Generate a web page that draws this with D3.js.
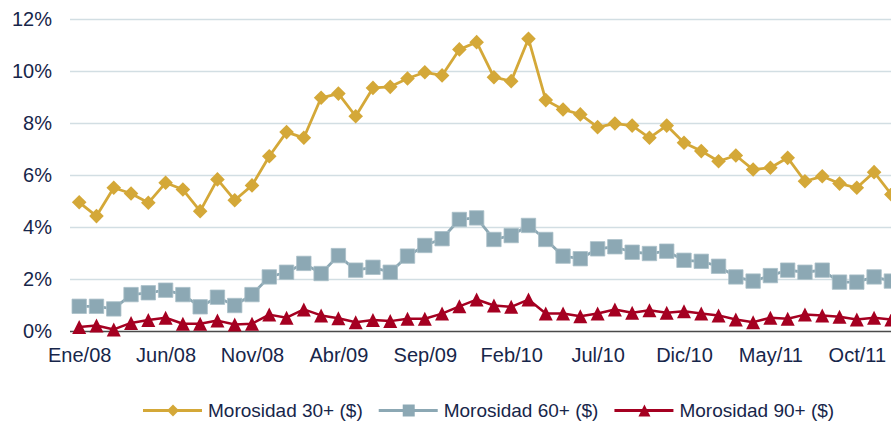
<!DOCTYPE html>
<html>
<head>
<meta charset="utf-8">
<script src="https://cdn.jsdelivr.net/npm/d3@7"></script>
<style>
  html, body { margin: 0; padding: 0; background: #ffffff; overflow: hidden; }
  svg { display: block; font-family: "Liberation Sans", Arial, sans-serif; }
</style>
</head>
<body>
<svg id="chart" width="891" height="426"></svg>
<script>
// ---- Data ----
const months = [
  "Ene/08","Feb/08","Mar/08","Abr/08","May/08","Jun/08","Jul/08","Ago/08","Sep/08","Oct/08","Nov/08","Dic/08",
  "Ene/09","Feb/09","Mar/09","Abr/09","May/09","Jun/09","Jul/09","Ago/09","Sep/09","Oct/09","Nov/09","Dic/09",
  "Ene/10","Feb/10","Mar/10","Abr/10","May/10","Jun/10","Jul/10","Ago/10","Sep/10","Oct/10","Nov/10","Dic/10",
  "Ene/11","Feb/11","Mar/11","Abr/11","May/11","Jun/11","Jul/11","Ago/11","Sep/11","Oct/11","Nov/11","Dic/11"
];
const tickLabels = ["Ene/08","Jun/08","Nov/08","Abr/09","Sep/09","Feb/10","Jul/10","Dic/10","May/11","Oct/11"];
const yTicks = [0, 2, 4, 6, 8, 10, 12];

const morosidad30 = [
  4.95, 4.42, 5.51, 5.29, 4.93, 5.70, 5.44, 4.61, 5.83, 5.03, 5.60, 6.72,
  7.65, 7.43, 8.97, 9.13, 8.26, 9.35, 9.39, 9.71, 9.95, 9.83, 10.83, 11.11,
  9.76, 9.61, 11.24, 8.88, 8.52, 8.33, 7.84, 7.98, 7.90, 7.43, 7.90, 7.24,
  6.92, 6.53, 6.75, 6.21, 6.28, 6.66, 5.76, 5.95, 5.67, 5.51, 6.11, 5.25
];
const morosidad60 = [
  0.95, 0.95, 0.85, 1.40, 1.47, 1.57, 1.40, 0.93, 1.30, 0.98, 1.40, 2.08,
  2.26, 2.60, 2.21, 2.90, 2.34, 2.45, 2.26, 2.88, 3.29, 3.55, 4.29, 4.35,
  3.52, 3.67, 4.06, 3.52, 2.88, 2.78, 3.16, 3.24, 3.03, 2.98, 3.07, 2.72,
  2.68, 2.49, 2.08, 1.92, 2.13, 2.34, 2.26, 2.34, 1.88, 1.88, 2.08, 1.92
];
const morosidad90 = [
  0.15, 0.21, 0.06, 0.31, 0.42, 0.51, 0.28, 0.28, 0.40, 0.25, 0.28, 0.63,
  0.51, 0.83, 0.60, 0.49, 0.34, 0.42, 0.38, 0.47, 0.47, 0.67, 0.95, 1.21,
  0.98, 0.93, 1.21, 0.67, 0.67, 0.57, 0.67, 0.83, 0.70, 0.80, 0.70, 0.76,
  0.67, 0.60, 0.44, 0.34, 0.51, 0.47, 0.63, 0.60, 0.55, 0.44, 0.51, 0.44
];
const seriesNames = ["Morosidad 30+ ($)", "Morosidad 60+ ($)", "Morosidad 90+ ($)"];
const seriesColors = ["#D4A838", "#8CA8B4", "#A50021"];
const seriesMarkers = ["diamond", "square", "triangle"];

// ---- Layout ----
const W = 891, H = 426;
const plotLeft = 70, plotRight = 891, plotTop = 19, plotBottom = 331;
const textColor = "#17264A";

const svg = d3.select("#chart");

const x = d3.scalePoint().domain(months).range([79.2, 79.2 + 47 * 17.28]);
const y = d3.scaleLinear().domain([0, 12]).range([plotBottom, plotTop]);

// Gridlines + y labels
const yAxis = svg.append("g")
  .attr("transform", `translate(${plotLeft},0)`)
  .call(d3.axisLeft(y).tickValues(yTicks).tickFormat(d => d + "%")
    .tickSize(-(plotRight - plotLeft)).tickPadding(18));
yAxis.select(".domain").remove();
yAxis.selectAll(".tick line")
  .attr("stroke", d => d === 0 ? "none" : "#D2DEE3")
  .attr("stroke-width", 1.6);
yAxis.selectAll(".tick text")
  .attr("fill", textColor).style("font-size", "20px");

// X axis
const xAxis = svg.append("g")
  .attr("transform", `translate(0,${plotBottom})`)
  .call(d3.axisBottom(x).tickValues(tickLabels).tickSize(0).tickPadding(17));
xAxis.select(".domain").remove();
xAxis.selectAll(".tick text")
  .attr("fill", textColor).style("font-size", "20px");

// Baseline
svg.append("line")
  .attr("x1", plotLeft).attr("x2", W)
  .attr("y1", plotBottom + 0.5).attr("y2", plotBottom + 0.5)
  .attr("stroke", "#4A4A4A").attr("stroke-width", 1.5);

// Marker symbol path generator
function markerPath(type, s) {
  if (type === "diamond") {
    return `M0,${-s}L${s},0L0,${s}L${-s},0Z`;
  } else if (type === "square") {
    return `M${-s},${-s}H${s}V${s}H${-s}Z`;
  } else {
    return `M0,${-s}L${s},${s}L${-s},${s}Z`;
  }
}
const markerSizes = { diamond: 7.3, square: 7.2, triangle: 7 };

const allSeries = [morosidad30, morosidad60, morosidad90];
const line = d3.line().x((d, i) => x(months[i])).y(d => y(d));

allSeries.forEach((vals, si) => {
  const g = svg.append("g");
  g.append("path")
    .attr("d", line(vals))
    .attr("fill", "none")
    .attr("stroke", seriesColors[si])
    .attr("stroke-width", si === 2 ? 2.5 : 2.8)
    .attr("stroke-linejoin", "round");
  g.selectAll("path.m")
    .data(vals)
    .join("path")
    .attr("class", "m")
    .attr("transform", (d, i) => `translate(${x(months[i])},${y(d)})`)
    .attr("d", markerPath(seriesMarkers[si], markerSizes[seriesMarkers[si]]))
    .attr("fill", seriesColors[si])
    .attr("stroke", si === 1 ? "#A9BFC8" : "none")
    .attr("stroke-width", si === 1 ? 0.8 : 0);
});

// Legend
const legendY = 410.5;
const legend = svg.append("g");
let lx = 143;
seriesNames.forEach((name, si) => {
  const g = legend.append("g");
  g.append("line")
    .attr("x1", lx).attr("x2", lx + 59)
    .attr("y1", legendY).attr("y2", legendY)
    .attr("stroke", seriesColors[si]).attr("stroke-width", 2.8);
  g.append("path")
    .attr("transform", `translate(${lx + 30},${legendY})`)
    .attr("d", markerPath(seriesMarkers[si], 6))
    .attr("fill", seriesColors[si]);
  const t = g.append("text")
    .attr("x", lx + 65).attr("y", legendY)
    .attr("dy", "0.35em")
    .attr("fill", textColor)
    .style("font-size", "19px")
    .text(name);
  const tw = t.node().getComputedTextLength();
  lx = lx + 65 + tw + 16;
});
</script>
</body>
</html>
